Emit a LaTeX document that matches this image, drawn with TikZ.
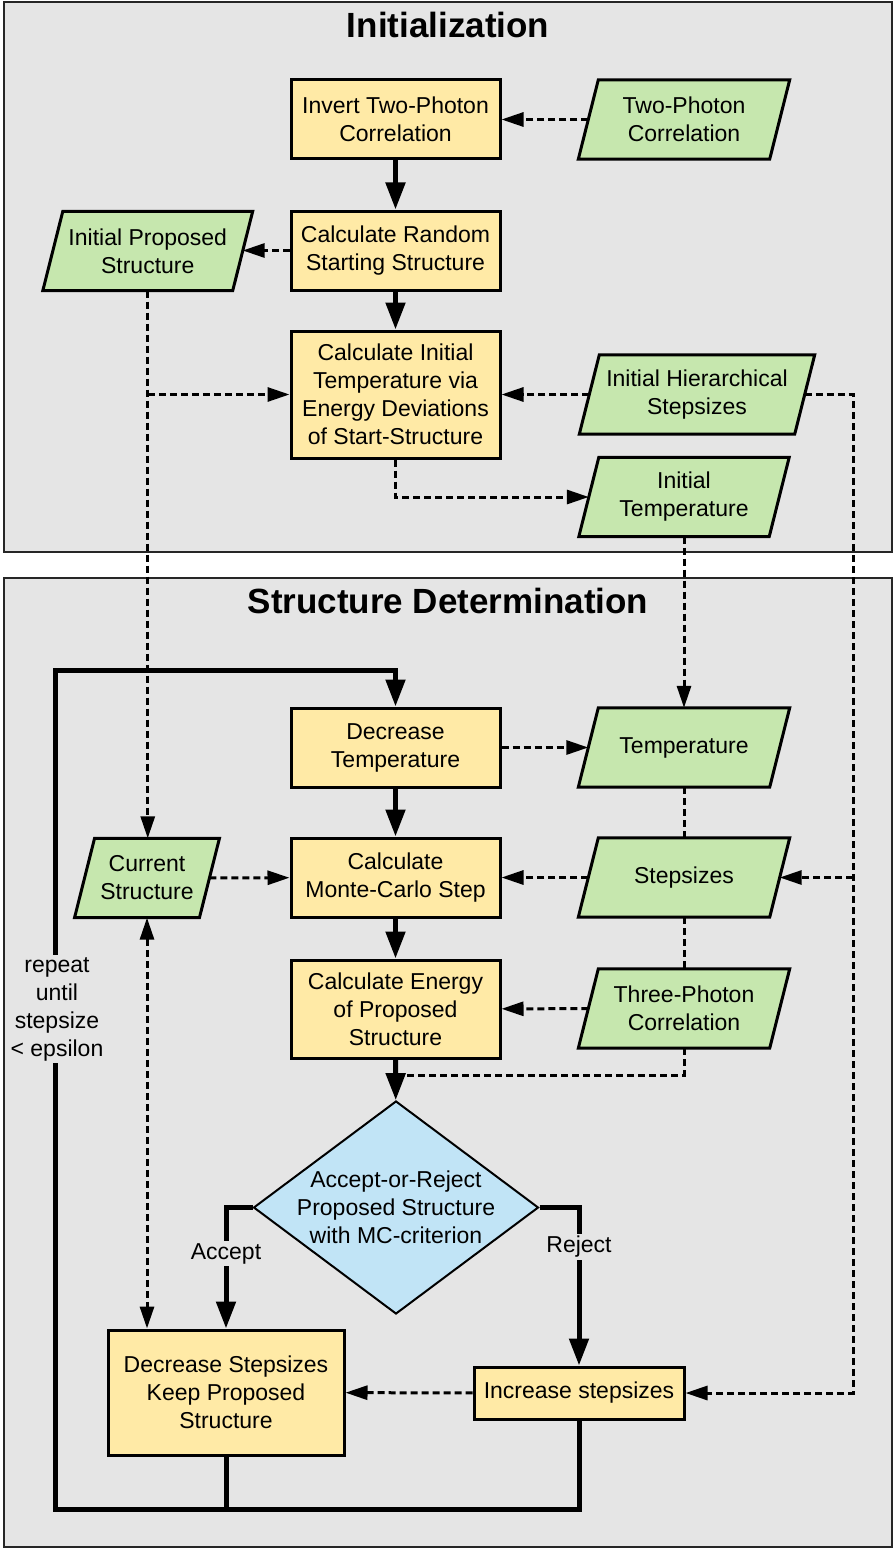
\documentclass[tikz,border=0pt]{standalone}
\usepackage{fontspec}
\setmainfont{Liberation Sans}
\usetikzlibrary{arrows.meta,shapes.geometric,calc}
\pgfdeclarelayer{panels}
\pgfdeclarelayer{shapes}
\pgfsetlayers{panels,shapes,main}
\definecolor{boxyellow}{HTML}{FFEAA6}
\definecolor{datagreen}{HTML}{C6E7AE}
\definecolor{diablue}{HTML}{C1E4F6}
\definecolor{panelgray}{HTML}{E5E5E5}
\tikzset{
  txt/.style={font=\fontsize{23}{28}\selectfont, align=center},
  procbox/.style={txt, draw=black, line width=3pt, fill=boxyellow, inner sep=0pt, minimum width=209pt},
  datanode/.style={txt, inner sep=0pt, minimum height=79pt},
  thickarrow/.style={line width=5pt, -{Triangle[length=27pt,width=19pt]}},
  thickline/.style={line width=5pt},
  dashline/.style={line width=3pt, dash pattern=on 7pt off 4pt},
  dasharrow/.style={dashline, -{Triangle[length=22pt,width=14pt]}},
  lbl/.style={txt, fill=panelgray, inner sep=2pt},
  titletext/.style={font=\fontsize{35}{40}\selectfont\bfseries, anchor=base},
}
\newcommand\drawdata[1]{%
  \begin{pgfonlayer}{shapes}
  \draw[line width=3pt, fill=datagreen, line join=miter]
    ([xshift=10pt]#1.north west) -- ([xshift=10pt]#1.north east) --
    ([xshift=-10pt]#1.south east) -- ([xshift=-10pt]#1.south west) -- cycle;
  \end{pgfonlayer}}
\begin{document}
\begin{tikzpicture}[x=1pt,y=-1pt]
\useasboundingbox (0,0) rectangle (894,1549);
\begin{pgfonlayer}{panels}
  \draw[line width=2pt, draw=black!85, fill=panelgray] (4,2) rectangle (892,552);
  \draw[line width=2pt, draw=black!85, fill=panelgray] (4,578) rectangle (892,1547);
\end{pgfonlayer}
\node[titletext] (t1) at (448,37.5) {Initialization};
\node[titletext] (t2) at (448,613) {Structure Determination};

% nodes
\node[procbox, minimum height=79pt] (inv) at (395.5,119.5) {Invert Two-Photon\\Correlation};
\node[datanode, minimum width=191pt] (tpc) at (684,119.5) {Two-Photon\\Correlation}; \drawdata{tpc}
\node[procbox, minimum height=79pt] (crs) at (395.5,250.5) {Calculate Random\\Starting Structure};
\node[datanode, minimum width=189.5pt] (ips) at (147.75,251) {Initial Proposed\\Structure}; \drawdata{ips}
\node[procbox, minimum height=127pt] (cit) at (395.5,394.5) {Calculate Initial\\Temperature via\\Energy Deviations\\of Start-Structure};
\node[datanode, minimum width=215pt] (ihs) at (697,394.5) {Initial Hierarchical\\Stepsizes}; \drawdata{ihs}
\node[datanode, minimum width=190pt] (itp) at (684,497) {Initial\\Temperature}; \drawdata{itp}

\node[procbox, minimum height=79pt] (dtp) at (395.5,747.5) {Decrease\\Temperature};
\node[datanode, minimum width=191pt] (tmp) at (684,747.5) {Temperature}; \drawdata{tmp}
\node[datanode, minimum width=124.5pt] (cur) at (147,878) {Current\\Structure}; \drawdata{cur}
\node[procbox, minimum height=79pt] (cmc) at (395.5,877.5) {Calculate\\Monte-Carlo Step};
\node[datanode, minimum width=191pt] (stp) at (684,877.5) {Stepsizes}; \drawdata{stp}
\node[procbox, minimum height=98pt] (cen) at (395.5,1009) {Calculate Energy\\of Proposed\\Structure};
\node[datanode, minimum width=191pt] (thp) at (684,1008.5) {Three-Photon\\Correlation}; \drawdata{thp}
\node[diamond, draw=black, line width=2pt, fill=diablue, minimum width=285pt, minimum height=213pt, inner sep=0pt, aspect=1.338] (dia) at (396,1207.5) {};
\node[txt] (diatext) at (dia.center) {Accept-or-Reject\\Proposed Structure\\with MC-criterion};
\node[procbox, minimum width=236pt, minimum height=125pt] (dss) at (226,1392.5) {Decrease Stepsizes\\Keep Proposed\\Structure};
\node[procbox, minimum width=210pt, minimum height=52pt] (ins) at (579,1393) {Increase stepsizes};

% helper coordinates
\coordinate (j1) at (ips.south |- cit.west);
\coordinate (rr) at ($(ihs.east)+(48.5,0)$);
\coordinate (j2) at ($(cen.south |- 0,1075)+(4,0)$);
\coordinate (lb) at (55,1509);
\coordinate (lt) at (55,670);

% initialization connectors
\draw[thickarrow] (inv) -- (crs);
\draw[dasharrow] (tpc) -- (inv);
\draw[dasharrow] (crs.west) -- (crs.west -| ips.east);
\draw[thickarrow] (crs) -- (cit);
\draw[dasharrow] (ips.south) -- (ips.south |- cur.north);
\draw[dasharrow] (j1) -- (cit.west);
\draw[dasharrow] (ihs) -- (cit);
\draw[dasharrow] (cit.south) |- (itp.west);
\draw[dasharrow] (ihs.east) -- (rr) |- (ins.east);
\draw[dasharrow] (rr |- stp.east) -- (stp.east);
\draw[dasharrow] (itp.south) -- (tmp.north);

% structure determination connectors
\draw[thickarrow] (ins.south) |- (lb) -- (lt) -| (dtp.north);
\draw[thickline] (dss.south) -- (dss.south |- lb);
\node[lbl] (rep) at (57,1009) {repeat\\until\\stepsize\\< epsilon};
\draw[dasharrow] (dtp) -- (tmp);
\draw[thickarrow] (dtp) -- (cmc);
\draw[dashline] (tmp) -- (stp);
\draw[dasharrow] (cur) -- (cmc);
\draw[dasharrow] (stp) -- (cmc);
\draw[dashline] (stp) -- (thp);
\draw[thickarrow] (cmc) -- (cen);
\draw[dasharrow] (thp) -- (cen);
\draw[dashline] (thp.south) |- (j2);
\draw[thickarrow] (cen) -- (dia);
\draw[thickarrow] (dia.west) -| node[lbl, pos=0.69] (acc) {Accept} (dss.north);
\draw[thickarrow] (dia.east) -| node[lbl, pos=0.625] (rej) {Reject} (ins.north);
\draw[dashline, {Triangle[length=22pt,width=14pt]}-{Triangle[length=22pt,width=14pt]}] (cur.south) -- (cur.south |- dss.north);
\draw[dasharrow] (ins) -- (dss);
\end{tikzpicture}
\end{document}
